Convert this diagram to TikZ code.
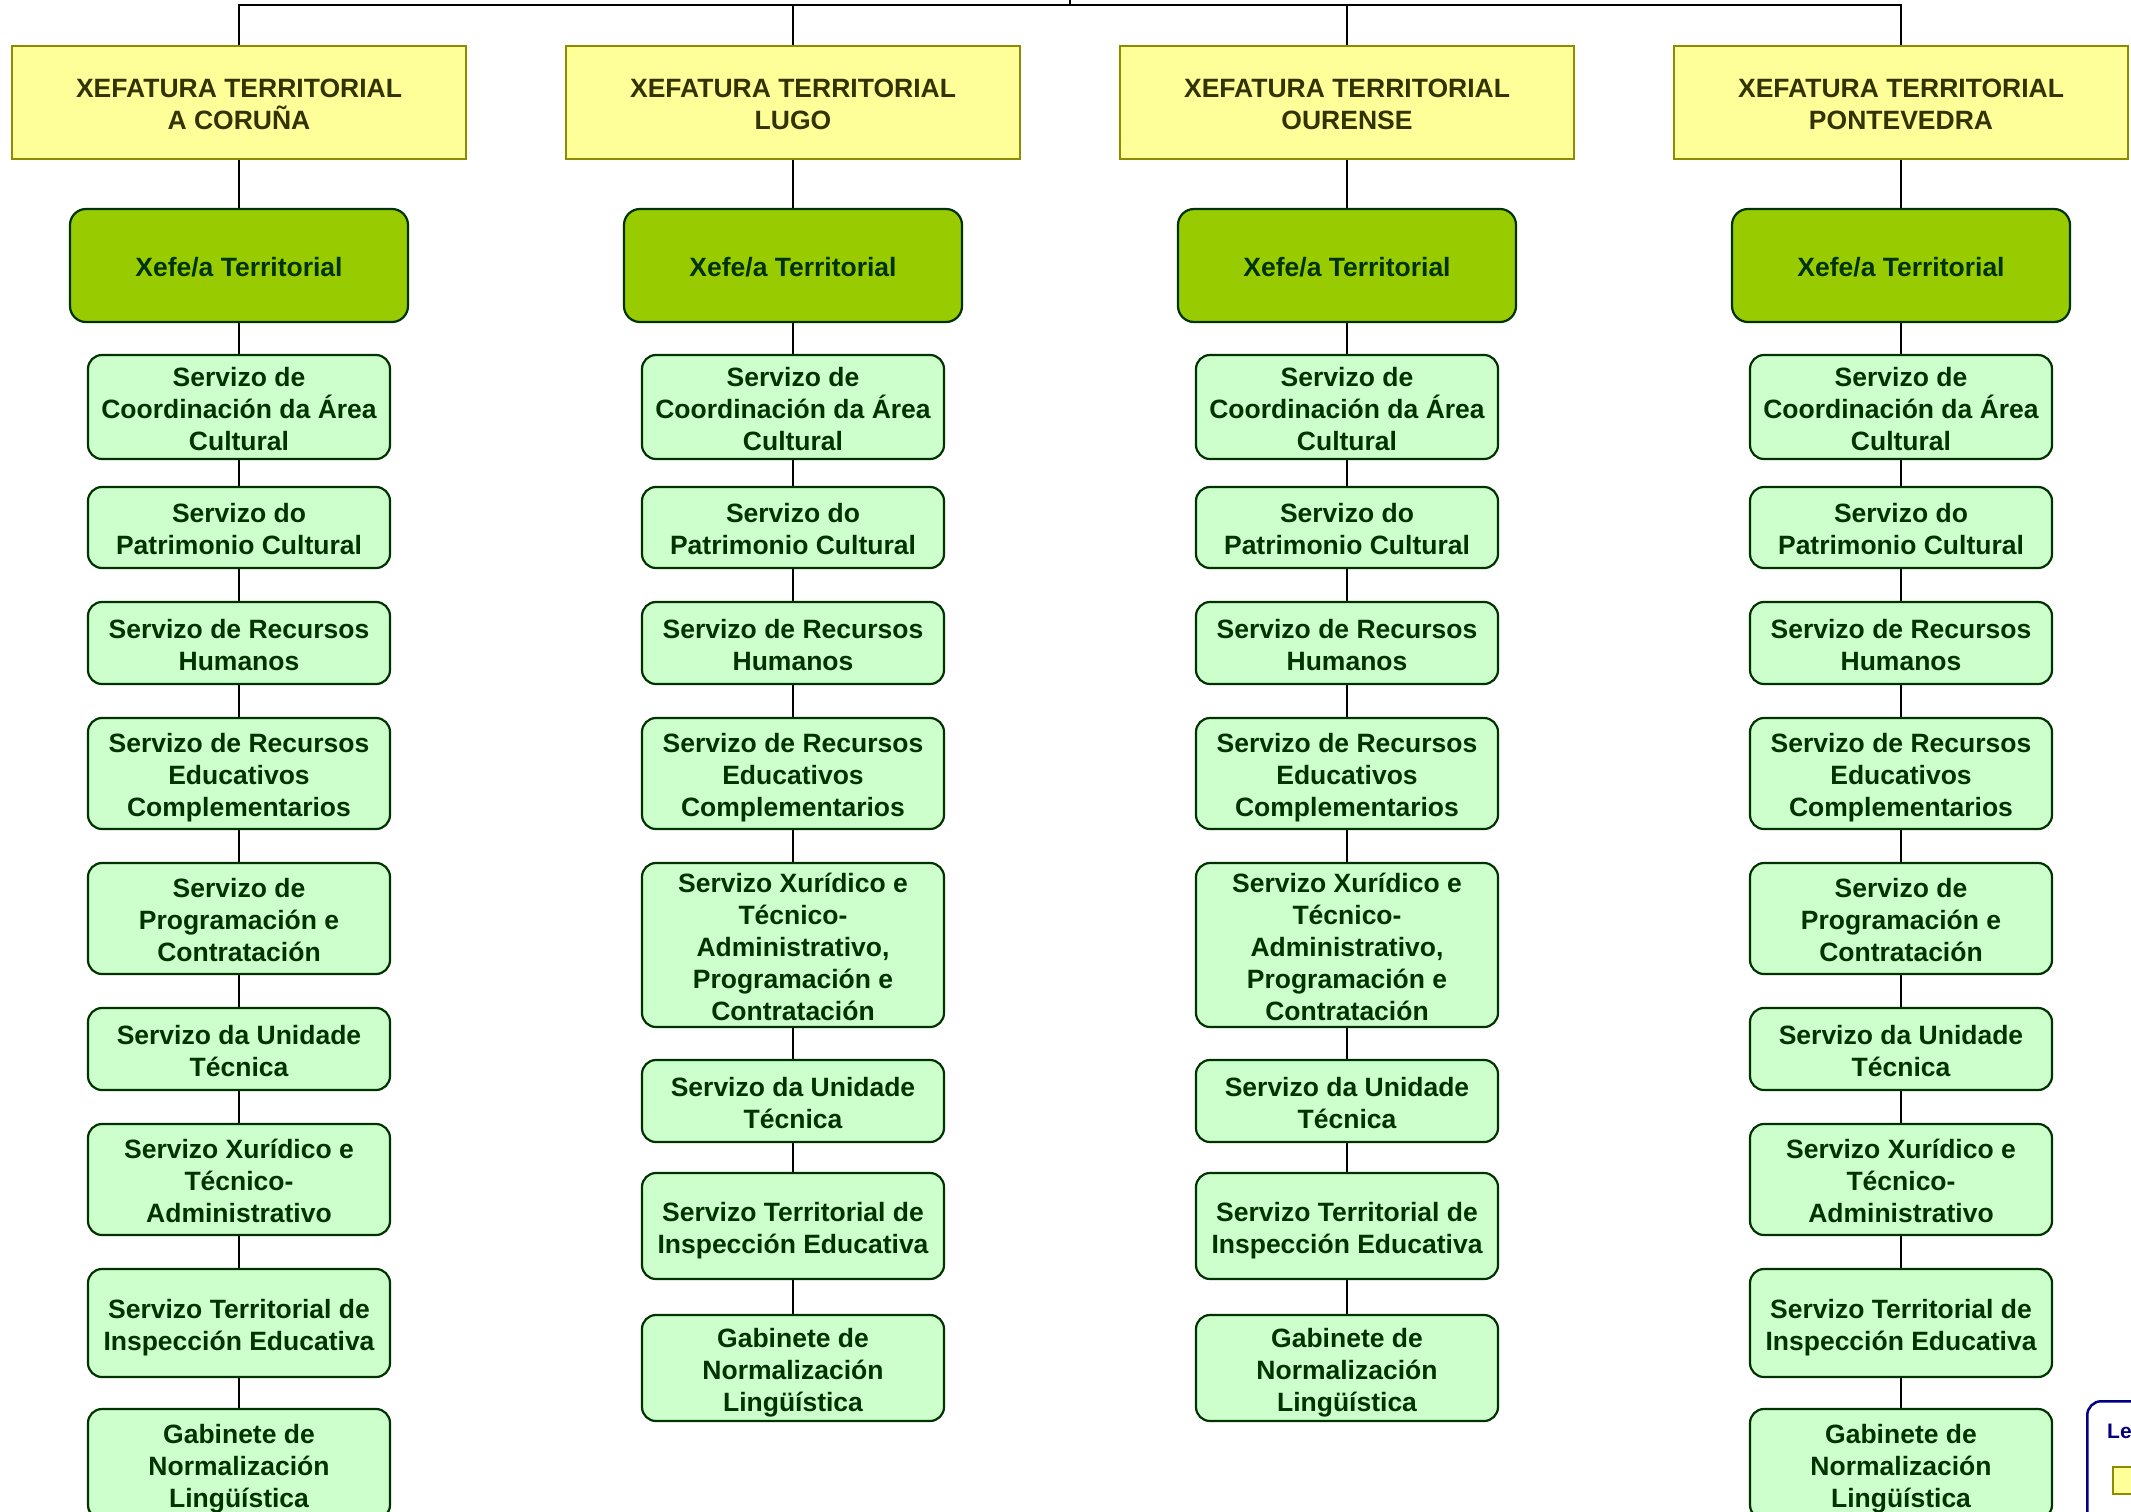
\documentclass[tikz,border=0pt]{standalone}
\usepackage{fontspec}
\setmainfont{Liberation Sans}
\definecolor{yfill}{HTML}{FFFF99}
\definecolor{ydraw}{HTML}{8C8C00}
\definecolor{ytext}{HTML}{333300}
\definecolor{gfill}{HTML}{99CC00}
\definecolor{gdraw}{HTML}{003300}
\definecolor{gtext}{HTML}{003300}
\definecolor{sfill}{HTML}{CCFFCC}
\definecolor{legnavy}{HTML}{000080}
\newcommand\tx[1]{\rule{0pt}{28.5pt}#1\rule[-6pt]{0pt}{6pt}}
\begin{document}
\begin{tikzpicture}[x=1pt,y=-1pt,
  txt/.style={font=\fontsize{26.5}{32}\selectfont\bfseries, align=center, inner sep=0pt},
  hdr/.style={txt, draw=ydraw, fill=yfill, line width=2.2pt, minimum width=454pt, minimum height=113pt, text=ytext},
  boss/.style={txt, draw=gdraw, fill=gfill, line width=2.2pt, rounded corners=16pt, minimum width=338pt, minimum height=113pt, text=gtext},
  srv/.style={txt, draw=gdraw, fill=sfill, line width=2.2pt, rounded corners=14pt, minimum width=302pt, text=gtext},
  conn/.style={draw=black, line width=2pt}]
\useasboundingbox (0,0) rectangle (2131,1512);
\clip (0,0) rectangle (2131,1512);
\coordinate (topc) at (1070,0);
\coordinate (bar) at (1070,5.5);
\foreach \i/\cx/\nm in {1/239/A CORUÑA,2/793/LUGO,3/1347/OURENSE,4/1901/PONTEVEDRA}{
  \node[hdr] (h\i) at (\cx,102.5) {\tx{XEFATURA TERRITORIAL\\\nm}};
  \node[boss] (b\i) at (\cx,265.5) {\tx{Xefe/a Territorial}};
  \node[srv, minimum height=104pt] (s\i1) at (\cx,407) {\tx{Servizo de\\Coordinación da Área\\Cultural}};
  \node[srv, minimum height=81pt] (s\i2) at (\cx,527.5) {\tx{Servizo do\\Patrimonio Cultural}};
  \node[srv, minimum height=82pt] (s\i3) at (\cx,643) {\tx{Servizo de Recursos\\Humanos}};
  \node[srv, minimum height=111pt] (s\i4) at (\cx,773.5) {\tx{Servizo de Recursos\\Educativos\\Complementarios}};
}
\foreach \i in {1,4}{
  \path (h\i.center) coordinate (c);
  \node[srv, minimum height=111pt] (s\i5) at (c |- 0,918.5) {\tx{Servizo de\\Programación e\\Contratación}};
  \node[srv, minimum height=82pt] (s\i6) at (c |- 0,1049) {\tx{Servizo da Unidade\\Técnica}};
  \node[srv, minimum height=111pt] (s\i7) at (c |- 0,1179.5) {\tx{Servizo Xurídico e\\Técnico-\\Administrativo}};
  \node[srv, minimum height=108pt] (s\i8) at (c |- 0,1323) {\tx{Servizo Territorial de\\Inspección Educativa}};
  \node[srv, minimum height=110pt] (s\i9) at (c |- 0,1464) {\tx{Gabinete de\\Normalización\\Lingüística}};
  \draw[conn] (h\i) -- (b\i) -- (s\i1) -- (s\i2) -- (s\i3) -- (s\i4) -- (s\i5) -- (s\i6) -- (s\i7) -- (s\i8) -- (s\i9);
}
\foreach \i in {2,3}{
  \path (h\i.center) coordinate (c);
  \node[srv, minimum height=164pt] (s\i5) at (c |- 0,945) {\tx{Servizo Xurídico e\\Técnico-\\Administrativo,\\Programación e\\Contratación}};
  \node[srv, minimum height=82pt] (s\i6) at (c |- 0,1101) {\tx{Servizo da Unidade\\Técnica}};
  \node[srv, minimum height=106pt] (s\i7) at (c |- 0,1226) {\tx{Servizo Territorial de\\Inspección Educativa}};
  \node[srv, minimum height=106pt] (s\i8) at (c |- 0,1368) {\tx{Gabinete de\\Normalización\\Lingüística}};
  \draw[conn] (h\i) -- (b\i) -- (s\i1) -- (s\i2) -- (s\i3) -- (s\i4) -- (s\i5) -- (s\i6) -- (s\i7) -- (s\i8);
}
\draw[conn] (h1.north) |- (bar) -| (h4.north);
\draw[conn] (h2.north) -- (h2.north |- bar);
\draw[conn] (h3.north) -- (h3.north |- bar);
\draw[conn] (topc) -- (bar);
% legend (cut by the page edge)
\node[draw=legnavy, line width=2.5pt, rounded corners=14pt, minimum width=120pt, minimum height=180pt, anchor=north west, inner sep=0pt] (leg) at (2086,1400) {};
\node[anchor=base west, text=legnavy, font=\fontsize{21}{25}\selectfont\bfseries, inner sep=0pt] (legt) at (2107,1438) {Le};
\node[draw=ydraw, fill=yfill, line width=2pt, minimum width=40pt, minimum height=27pt, anchor=north west, inner sep=0pt] (legy) at (2112,1466) {};
\end{tikzpicture}
\end{document}
